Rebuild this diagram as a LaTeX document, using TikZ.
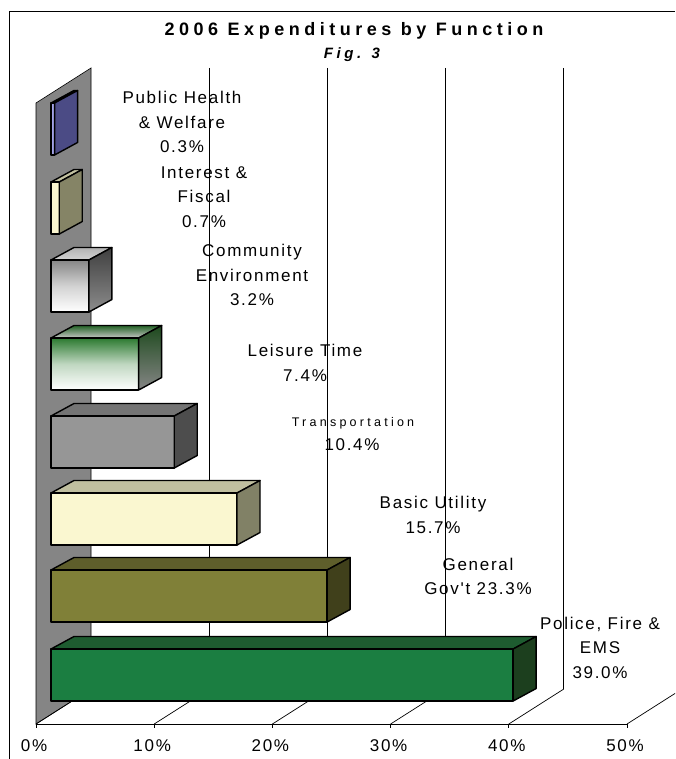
\documentclass[tikz,border=0pt]{standalone}
\usepackage{fontspec}
\setmainfont{Liberation Sans}
\newfontfamily\lblfont[LetterSpace=10]{Liberation Sans}
\newfontfamily\ttlfont[LetterSpace=25]{Liberation Sans}
\newfontfamily\figfont[LetterSpace=24]{Liberation Sans}
\newfontfamily\trfont[LetterSpace=26]{Liberation Sans}
\definecolor{wallgray}{HTML}{858585}
\definecolor{phfront}{HTML}{A3A3E6}
\definecolor{phside}{HTML}{4B4B85}
\definecolor{phtop}{HTML}{6E6EB0}
\definecolor{iffront}{HTML}{FAF6CF}
\definecolor{ifside}{HTML}{858466}
\definecolor{iftop}{HTML}{C2C1A0}
\definecolor{trfront}{HTML}{969696}
\definecolor{trside}{HTML}{4D4D4D}
\definecolor{trtop}{HTML}{747474}
\definecolor{bufront}{HTML}{FAF7D0}
\definecolor{buside}{HTML}{818166}
\definecolor{butop}{HTML}{C0BF9F}
\definecolor{ggfront}{HTML}{808038}
\definecolor{ggside}{HTML}{40401B}
\definecolor{ggtop}{HTML}{5E5E2B}
\definecolor{pffront}{HTML}{1B7E41}
\definecolor{pfside}{HTML}{1C3F1E}
\definecolor{pftop}{HTML}{1E5C30}
\definecolor{lsgreen}{HTML}{2C7A30}
\definecolor{lsdark}{HTML}{1E4A1E}
\tikzset{
  barline/.style={draw=black,line width=1.4pt,line join=round},
  gridline/.style={draw=black,line width=0.7pt},
  lbl/.style={font=\lblfont\fontsize{17}{24.5}\selectfont,align=center,inner sep=0pt},
  ticklbl/.style={font=\lblfont\fontsize{17}{19}\selectfont,inner sep=0pt},
}
% #1 top y, #2 value in percent, #3 front style, #4 top style, #5 side style
\newcommand\drawbar[5]{%
  \pgfmathsetmacro\xr{51+11.85*#2}%
  \path[#4,barline] (51,#1) -- ++(23,-12.5) -- (\xr+23,#1-12.5) -- (\xr,#1) -- cycle;
  \path[#3,barline] (51,#1) rectangle (\xr,#1+52);
  \path[#5,barline] (\xr,#1) -- ++(23,-12.5) -- ++(0,52) -- (\xr,#1+52) -- cycle;
}
\begin{document}
\begin{tikzpicture}[x=1pt,y=-1pt]
\useasboundingbox (0,0) rectangle (675,759);
\clip (0,0) rectangle (675,759);
\fill[white] (0,0) rectangle (675,759);
% frame
\draw[line width=1pt] (9,759) -- (9,11.5) -- (675,11.5);
% title
\node[font=\ttlfont\bfseries\fontsize{18}{21}\selectfont,inner sep=0pt] (title) at (354,31) {2006 Expenditures by Function};
\node[font=\figfont\bfseries\itshape\fontsize{15}{18}\selectfont,inner sep=0pt] (fig) at (352,55) {Fig. 3};
% wall
\path[fill=wallgray,draw=black,line width=0.6pt] (36,724) -- (36,103) -- (91,68) -- (91,689) -- cycle;
% gridlines on back wall
\foreach \k in {1,...,4} {
  \draw[gridline] (91+118.2*\k,68) -- (91+118.2*\k,689);
}
% floor
\draw[gridline] (36,724) -- (627,724);
\foreach \k in {0,...,5} {
  \draw[gridline] (36+118.2*\k,724) -- ++(55,-35);
  \draw[gridline] (36+118.2*\k,724) -- ++(0,4);
}
% bars
\drawbar{103}{0.3}{fill=phfront}{fill=phtop}{fill=phside}
\drawbar{182}{0.7}{fill=iffront}{fill=iftop}{fill=ifside}
\drawbar{260}{3.2}{top color=gray!95,bottom color=white,middle color=gray!35}{top color=gray!60,bottom color=gray!35}{top color=black!75,bottom color=gray!90}
\drawbar{338}{7.4}{top color=lsgreen,bottom color=white,middle color=lsgreen!30!white}{top color=lsgreen!80!black,bottom color=gray!45}{top color=lsdark,bottom color=gray!95}
\drawbar{416}{10.4}{fill=trfront}{fill=trtop}{fill=trside}
\drawbar{493}{15.7}{fill=bufront}{fill=butop}{fill=buside}
\drawbar{570}{23.3}{fill=ggfront}{fill=ggtop}{fill=ggside}
\drawbar{649}{39.0}{fill=pffront}{fill=pftop}{fill=pfside}
% labels
\node[lbl] (phl) at (182,122) {Public Health\\\& Welfare\\0.3\%};
\node[lbl] (ifl) at (204,197) {Interest \&\\Fiscal\\0.7\%};
\node[lbl] (cel) at (252,275) {Community\\Environment\\3.2\%};
\node[lbl] (lsl) at (305,363) {Leisure Time\\7.4\%};
\node[font=\trfont\fontsize{12.5}{14}\selectfont,inner sep=0pt] (trl) at (353,423) {Transportation};
\node[lbl] (trv) at (352,445) {10.4\%};
\node[lbl] (bul) at (433,515) {Basic Utility\\15.7\%};
\node[lbl] (ggl) at (478,576.5) {General\\Gov't 23.3\%};
\node[lbl] (pfl) at (600,647.5) {Police, Fire \&\\EMS\\39.0\%};
% tick labels
\foreach \k/\t in {0/0,1/10,2/20,3/30,4/40,5/50} {
  \node[ticklbl] (tick\k) at (34+118.2*\k,746) {\t\%};
}
\end{tikzpicture}
\end{document}
